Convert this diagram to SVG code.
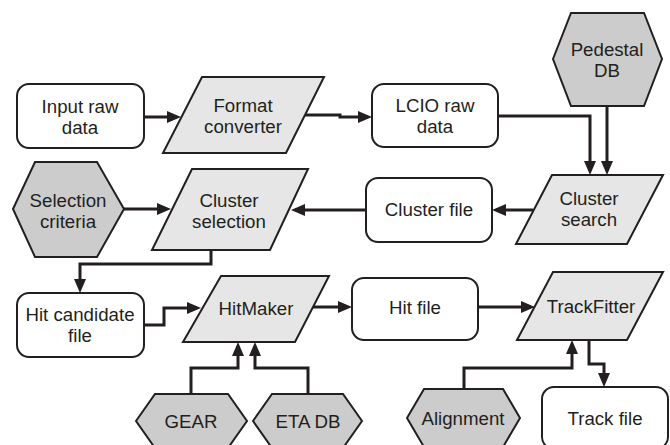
<svg xmlns="http://www.w3.org/2000/svg" width="670" height="445" viewBox="0 0 670 445">
<defs>
<style>
.box{fill:#ffffff;stroke:#231f20;stroke-width:2}
.proc{fill:#e6e6e6;stroke:#231f20;stroke-width:2;stroke-linejoin:miter}
.hex{fill:#cccccc;stroke:#231f20;stroke-width:2}
.t{font-family:"Liberation Sans",Arial,sans-serif;font-size:18.7px;fill:#231f20;text-anchor:middle}
.c{fill:none;stroke:#231f20;stroke-width:3;marker-end:url(#ah)}
</style>
<marker id="ah" markerUnits="userSpaceOnUse" markerWidth="15" markerHeight="13" refX="10" refY="6" orient="auto">
<path d="M0,0 L14,6 L0,12 z" fill="#231f20"/>
</marker>
</defs>
<rect width="670" height="445" fill="#ffffff"/>
<g id="connectors">
<path class="c" d="M143,117 H177"/>
<path class="c" d="M305,115 H340 V117 H368"/>
<path class="c" d="M498,116 H590 V171"/>
<path class="c" d="M607,106 V171"/>
<path class="c" d="M533,210 H496"/>
<path class="c" d="M366,210 H295"/>
<path class="c" d="M124,209 H167"/>
<path class="c" d="M211,250 V264 H80 V289"/>
<path class="c" d="M144,325 H164 V308 H197"/>
<path class="c" d="M312,307 H348"/>
<path class="c" d="M478,307 H531"/>
<path class="c" d="M191,394 V368 H238 V346"/>
<path class="c" d="M308,394 V368 H255 V346"/>
<path class="c" d="M464,389 V368 H572 V344"/>
<path class="c" d="M589,340 V364 H604 V383"/>
</g>
<g id="input-raw-data">
<rect class="box" x="17" y="84" width="127" height="64" rx="12"/>
<text class="t" x="80" y="113">Input raw</text>
<text class="t" x="80" y="134">data</text>
</g>
<g id="format-converter">
<polygon class="proc" points="202,77 324,77 286,153 163,153"/>
<text class="t" x="243" y="112">Format</text>
<text class="t" x="243" y="133">converter</text>
</g>
<g id="lcio-raw-data">
<rect class="box" x="372" y="84" width="126" height="63" rx="12"/>
<text class="t" x="435" y="112">LCIO raw</text>
<text class="t" x="435" y="133">data</text>
</g>
<g id="pedestal-db">
<polygon class="hex" points="553,59 571,13 644,13 662,59 644,106 571,106"/>
<text class="t" x="607" y="56">Pedestal</text>
<text class="t" x="607" y="77">DB</text>
</g>
<g id="cluster-search">
<polygon class="proc" points="552,175 663,175 627,244 516,244"/>
<text class="t" x="589" y="205">Cluster</text>
<text class="t" x="589" y="226">search</text>
</g>
<g id="cluster-file">
<rect class="box" x="366" y="178" width="126" height="64" rx="12"/>
<text class="t" x="429" y="216">Cluster file</text>
</g>
<g id="cluster-selection">
<polygon class="proc" points="192,169 308,169 270,250 152,250"/>
<text class="t" x="229" y="207">Cluster</text>
<text class="t" x="229" y="228">selection</text>
</g>
<g id="selection-criteria">
<polygon class="hex" points="13,209 35,162 97,162 124,209 97,257 35,257"/>
<text class="t" x="68" y="207">Selection</text>
<text class="t" x="68" y="228">criteria</text>
</g>
<g id="hit-candidate-file">
<rect class="box" x="17" y="293" width="127" height="64" rx="12"/>
<text class="t" x="80" y="321">Hit candidate</text>
<text class="t" x="80" y="342">file</text>
</g>
<g id="hitmaker">
<polygon class="proc" points="221,276 329,276 295,342 183,342"/>
<text class="t" x="256" y="315">HitMaker</text>
</g>
<g id="hit-file">
<rect class="box" x="352" y="278" width="126" height="62" rx="12"/>
<text class="t" x="415" y="314">Hit file</text>
</g>
<g id="trackfitter">
<polygon class="proc" points="553,272 663,272 627,340 517,340"/>
<text class="t" x="591" y="313">TrackFitter</text>
</g>
<g id="gear">
<polygon class="hex" points="136,421 155,394 228,394 247,421 228,448 155,448"/>
<text class="t" x="191" y="428">GEAR</text>
</g>
<g id="eta-db">
<polygon class="hex" points="253,421 272,394 343,394 362,421 343,448 272,448"/>
<text class="t" x="308" y="428">ETA DB</text>
</g>
<g id="alignment">
<polygon class="hex" points="407,418 424,389 503,389 520,418 503,447 424,447"/>
<text class="t" x="463" y="425">Alignment</text>
</g>
<g id="track-file">
<rect class="box" x="542" y="387" width="126" height="62" rx="12"/>
<text class="t" x="605" y="425">Track file</text>
</g>
</svg>
